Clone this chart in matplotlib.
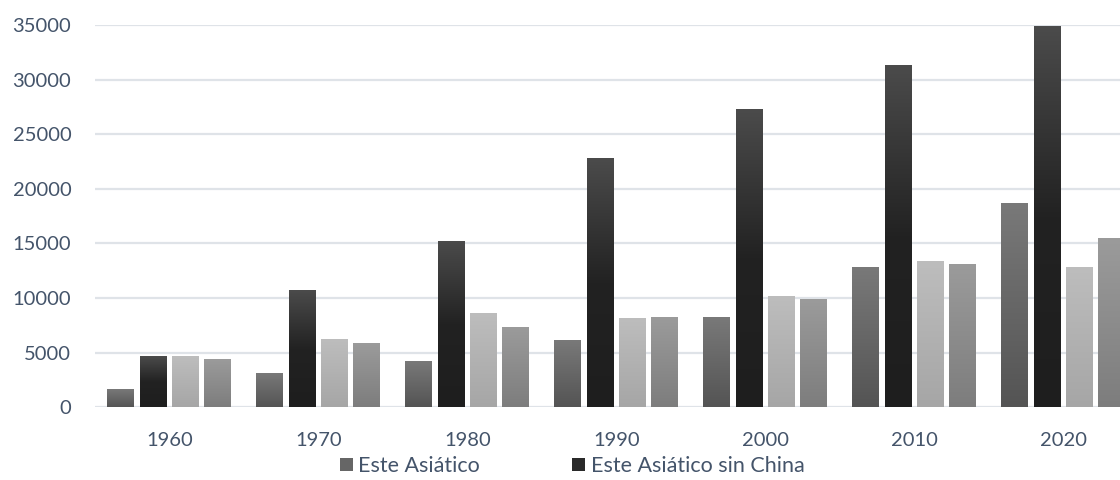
import numpy as np
import matplotlib.pyplot as plt
from matplotlib.colors import LinearSegmentedColormap

# values
years = ['1960', '1970', '1980', '1990', '2000', '2010', '2020']
este_asiatico = [1650, 3030, 4150, 6080, 8170, 12840, 18620]
este_sin_china = [4590, 10640, 15170, 22750, 27250, 31280, 34860]
serie3 = [4590, 6150, 8560, 8100, 10090, 13300, 12840]
serie4 = [4400, 5870, 7280, 8190, 9820, 13030, 15410]

labels = ['Este Asiático', 'Este Asiático sin China', '_s3', '_s4']
# gradient stops (bottom -> top)
grads = [['#545454', '#797979'],
         ['#1e1e1e', '#222222', '#4b4b4b'],
         ['#a6a6a6', '#bdbdbd'],
         ['#7d7d7d', '#9b9b9b']]
mid = ['#666666', '#2a2a2a', '#b2b2b2', '#8c8c8c']

txt = '#44546a'
plt.rcParams['font.family'] = ['Lato', 'DejaVu Sans']

fig = plt.figure(figsize=(11.2, 4.8), dpi=100)
ax = fig.add_axes([0.0848, 0.152, 1.016 - 0.0848, 0.947 - 0.152])

x = np.arange(len(years))
step = 0.217
width = 0.181
series = [este_asiatico, este_sin_china, serie3, serie4]
for i, vals in enumerate(series):
    bars = ax.bar(x + (i - 1.5) * step, vals, width, color=mid[i], label=labels[i], zorder=2)
    cmap = LinearSegmentedColormap.from_list('g%d' % i, grads[i])
    grad = np.linspace(0, 1, 256).reshape(-1, 1)
    for b in bars:
        x0, w, h = b.get_x(), b.get_width(), b.get_height()
        ax.imshow(grad, cmap=cmap, origin='lower', aspect='auto',
                  extent=[x0, x0 + w, 0, h], zorder=3)

ax.set_xlim(-0.5, len(years) - 0.5)
ax.set_ylim(0, 35000)
ax.set_yticks(range(0, 35001, 5000))
ax.set_xticks(x)
ax.set_xticklabels(years)
ax.grid(axis='y', color='#dfe3e8', linewidth=1.6, zorder=0)
ax.set_axisbelow(True)
for s in ax.spines.values():
    s.set_visible(False)
ax.tick_params(length=0, colors=txt, labelsize=14.5)
ax.tick_params(axis='y', pad=17)
ax.tick_params(axis='x', pad=18)

ax.legend(loc='upper center', bbox_to_anchor=(572 / 1120, 0.072), bbox_transform=fig.transFigure,
          ncol=2, frameon=False, fontsize=15.5, labelcolor=txt, handlelength=0.6, handleheight=0.6,
          handletextpad=0.25, columnspacing=4.3, borderpad=0)

fig.savefig('out.png', dpi=100)
